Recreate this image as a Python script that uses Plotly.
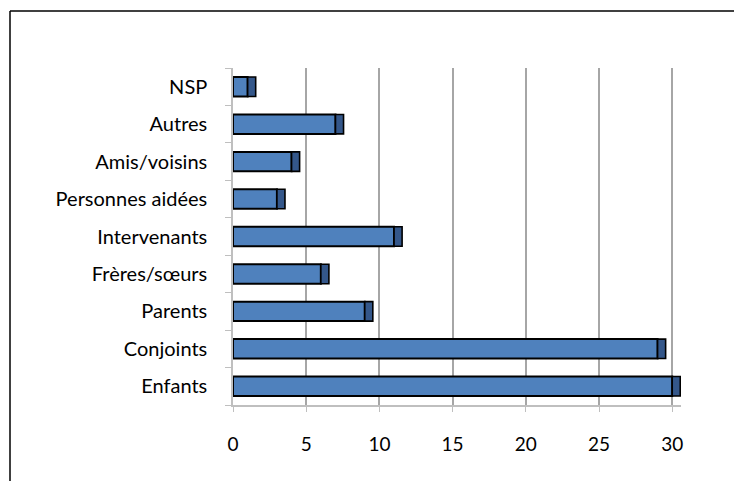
import plotly.graph_objects as go

categories = ["Enfants", "Conjoints", "Parents", "Frères/sœurs", "Intervenants",
              "Personnes aidées", "Amis/voisins", "Autres", "NSP"]
values = [30, 29, 9, 6, 11, 3, 4, 7, 1]
x_ticks = [0, 5, 10, 15, 20, 25, 30]
side_depth = 0.55  # decorative 3D side face width, in value units

W, H = 734, 481
L, R, T, B = 233, 53, 68, 76
pw, ph = W - L - R, H - T - B

fig = go.Figure()
fig.add_trace(go.Bar(
    y=categories, x=values, orientation="h",
    marker=dict(color="#4F81BD", line=dict(color="#000000", width=2)),
    width=0.52, hoverinfo="x+y", showlegend=False,
))
fig.add_trace(go.Bar(
    y=categories, x=[side_depth] * len(values), base=values, orientation="h",
    marker=dict(color="#34578A", line=dict(color="#000000", width=1.6)),
    width=0.52, hoverinfo="skip", showlegend=False,
))

fig.update_layout(
    width=W, height=H,
    margin=dict(l=L, r=R, t=T, b=B),
    paper_bgcolor="white", plot_bgcolor="white",
    barmode="overlay",
    font=dict(family="Lato, Open Sans, sans-serif", size=20, color="#000000"),
    xaxis=dict(
        range=[0, 30.6], tickvals=x_ticks, ticktext=[str(v) for v in x_ticks],
        showgrid=True, gridcolor="#A6A6A6", gridwidth=2,
        zeroline=False, showline=True, linecolor="#BFBFBF", linewidth=1.5,
        ticks="outside", ticklen=5, tickcolor="#BFBFBF",
        ticklabelstandoff=16, tickfont=dict(size=19),
    ),
    yaxis=dict(
        categoryorder="array", categoryarray=categories,
        showgrid=False, zeroline=False,
        showline=True, linecolor="#BFBFBF", linewidth=1.5,
        ticks="outside", ticklen=6, tickcolor="#BFBFBF", tickson="boundaries",
        ticklabelstandoff=20, tickfont=dict(size=20),
    ),
    shapes=[
        dict(type="line", xref="paper", yref="paper",
             x0=(10 - L) / pw, x1=(W + 5 - L) / pw,
             y0=(H - B - 11) / ph, y1=(H - B - 11) / ph,
             line=dict(color="#000000", width=1.5)),
        dict(type="line", xref="paper", yref="paper",
             x0=(10 - L) / pw, x1=(10 - L) / pw,
             y0=(H - B - 11) / ph, y1=(H - B - H - 5) / ph,
             line=dict(color="#000000", width=1.5)),
    ],
)

fig.write_html(
    "out.html",
    config={"displayModeBar": False},
    post_script="document.body.style.margin='0';document.body.style.overflow='hidden';",
)
